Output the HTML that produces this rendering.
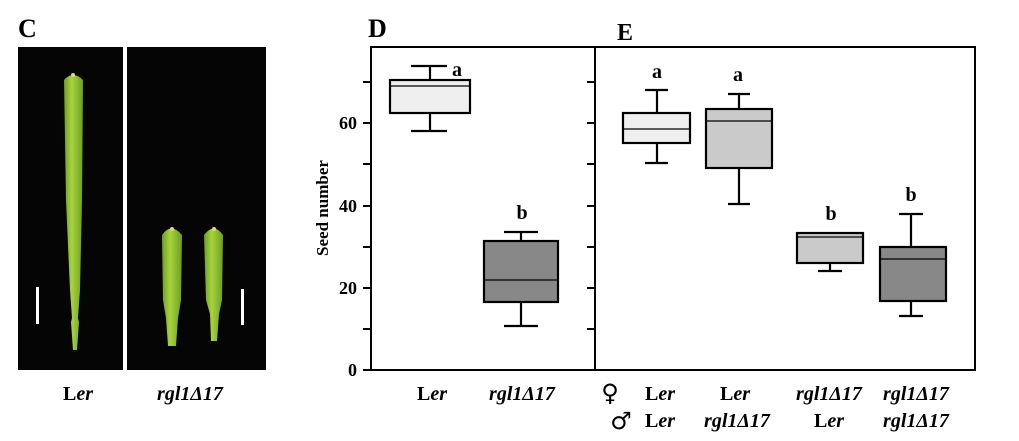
<!DOCTYPE html>
<html><head><meta charset="utf-8"><style>
body{margin:0;background:#fff;}
svg{display:block;font-family:"Liberation Serif",serif;font-weight:bold;}
</style></head><body>
<svg width="1019" height="441" viewBox="0 0 1019 441" xmlns="http://www.w3.org/2000/svg">
<defs>
<linearGradient id="g" x1="0" x2="1"><stop offset="0" stop-color="#6f9e22"/><stop offset="0.4" stop-color="#a6d43e"/><stop offset="1" stop-color="#6f9e22"/></linearGradient>
</defs>
<text x="18" y="37" font-size="26">C</text>
<text x="368" y="37" font-size="26">D</text>
<text x="617" y="40" font-size="24">E</text>
<rect x="18" y="47" width="105" height="323" fill="#050505"/>
<rect x="127" y="47" width="139" height="323" fill="#050505"/>
<path d="M64,80 Q73,70 83,80 L82,200 L80,290 L78,318 L79,322 L77,350 L73,350 L71,322 L72,318 L70,290 L66,200 Z" fill="url(#g)"/>
<path d="M162,235 Q171,222 182,235 L181,300 L178,318 L176,346 L168,346 L166,318 L163,300 Z" fill="url(#g)"/>
<path d="M204,235 Q214,222 223,235 L222,300 L219,314 L217,341 L211,341 L210,314 L206,300 Z" fill="url(#g)"/>
<circle cx="73" cy="75" r="2" fill="#e6d27a"/><circle cx="172" cy="229" r="2" fill="#e6d27a"/><circle cx="214" cy="229" r="2" fill="#e6d27a"/>
<rect x="36" y="287" width="3" height="37" fill="#fff"/>
<rect x="241" y="289" width="3" height="36" fill="#fff"/>
<text x="78" y="400" font-size="20" text-anchor="middle">L<tspan font-style="italic">er</tspan></text>
<text x="190" y="400" font-size="20" text-anchor="middle" font-style="italic">rgl1Δ17</text>
<g stroke="#000" stroke-width="2" fill="none">
<rect x="371" y="47" width="604" height="323"/>
<line x1="595" y1="47" x2="595" y2="370"/>
<path d="M363,370H371M363,329H371M363,288H371M363,247H371M363,206H371M363,164H371M363,123H371M363,82H371"/>
<path d="M587,329H595M587,288H595M587,247H595M587,206H595M587,164H595M587,123H595M587,82H595"/>
</g>
<g font-size="18" text-anchor="end">
<text x="357" y="376">0</text><text x="357" y="294">20</text><text x="357" y="212">40</text><text x="357" y="129">60</text>
</g>
<text transform="translate(328,208) rotate(-90)" font-size="17" text-anchor="middle">Seed number</text>
<g stroke="#000" stroke-width="2.2">
<path d="M430,66V80M411,66H447M430,113V131M411,131H447"/>
<rect x="390" y="80" width="80" height="33" fill="#efefef"/><line x1="390" y1="86" x2="470" y2="86" stroke-width="1.2"/>
<path d="M521,232V241M504,232H538M521,302V326M504,326H538"/>
<rect x="484" y="241" width="74" height="61" fill="#888"/><line x1="484" y1="280" x2="558" y2="280" stroke-width="1.2"/>
<path d="M657,90V113M645,90H668M657,143V163M645,163H668"/>
<rect x="623" y="113" width="67" height="30" fill="#efefef"/><line x1="623" y1="129" x2="690" y2="129" stroke-width="1.2"/>
<path d="M739,94V109M728,94H750M739,168V204M728,204H750"/>
<rect x="706" y="109" width="66" height="59" fill="#cacaca"/><line x1="706" y1="121" x2="772" y2="121" stroke-width="1.2"/>
<path d="M830,263V271M818,271H842"/>
<rect x="797" y="233" width="66" height="30" fill="#cacaca"/><line x1="797" y1="237" x2="863" y2="237" stroke-width="1.2"/>
<path d="M911,214V247M899,214H923M911,301V316M899,316H923"/>
<rect x="880" y="247" width="66" height="54" fill="#888"/><line x1="880" y1="259" x2="946" y2="259" stroke-width="1.2"/>
</g>
<g font-size="20" text-anchor="middle">
<text x="457" y="76">a</text><text x="522" y="219">b</text>
<text x="657" y="78">a</text><text x="738" y="81">a</text>
<text x="831" y="220">b</text><text x="911" y="201">b</text>
</g>
<g font-size="20" text-anchor="middle">
<text x="432" y="400">L<tspan font-style="italic">er</tspan></text>
<text x="522" y="400" font-style="italic">rgl1Δ17</text>
<text x="660" y="400">L<tspan font-style="italic">er</tspan></text>
<text x="735" y="400">L<tspan font-style="italic">er</tspan></text>
<text x="829" y="400" font-style="italic">rgl1Δ17</text>
<text x="916" y="400" font-style="italic">rgl1Δ17</text>
<text x="660" y="427">L<tspan font-style="italic">er</tspan></text>
<text x="737" y="427" font-style="italic">rgl1Δ17</text>
<text x="829" y="427">L<tspan font-style="italic">er</tspan></text>
<text x="916" y="427" font-style="italic">rgl1Δ17</text>
</g>
<text x="610" y="401" font-size="24" font-weight="normal" font-family="DejaVu Sans,sans-serif" text-anchor="middle">♀</text>
<text x="621" y="429" font-size="24" font-weight="normal" font-family="DejaVu Sans,sans-serif" text-anchor="middle">♂</text>
</svg>
</body></html>
